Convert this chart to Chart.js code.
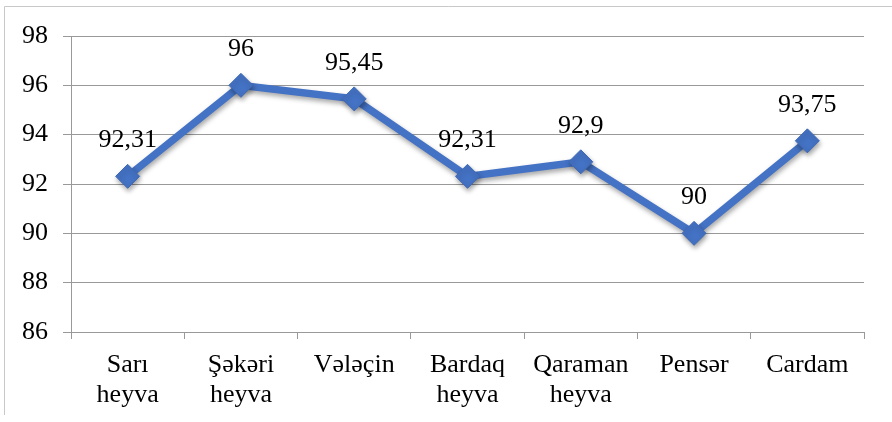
<!DOCTYPE html>
<html>
<head>
<meta charset="utf-8">
<script src="https://cdn.jsdelivr.net/npm/chart.js@4/dist/chart.umd.min.js"></script>
<style>
  html, body { margin: 0; padding: 0; background: #ffffff; }
  #wrap { width: 892px; height: 422px; position: relative; }
</style>
</head>
<body>
<div id="wrap"><canvas id="c" width="892" height="422"></canvas></div>
<script>
const categories = [["Sarı", "heyva"], ["Şəkəri", "heyva"], ["Vələçin"], ["Bardaq", "heyva"], ["Qaraman", "heyva"], ["Pensər"], ["Cardam"]];
const values = [92.31, 96, 95.45, 92.31, 92.9, 90, 93.75];
const valueLabels = ["92,31", "96", "95,45", "92,31", "92,9", "90", "93,75"];
const yTicks = [86, 88, 90, 92, 94, 96, 98];

const FONT = "'Liberation Serif', 'Times New Roman', serif";
const BLUE = "#4472C4";

const framePlugin = {
  id: 'frame',
  beforeDraw(chart) {
    const ctx = chart.ctx;
    ctx.save();
    ctx.strokeStyle = '#c8c8c8';
    ctx.lineWidth = 1;
    ctx.beginPath();
    ctx.moveTo(4.5, 415);
    ctx.lineTo(4.5, 6.5);
    ctx.lineTo(892, 6.5);
    ctx.stroke();
    ctx.restore();
  }
};

const shadowPlugin = {
  id: 'shadow',
  beforeDatasetDraw(chart) {
    const ctx = chart.ctx;
    ctx.save();
    ctx.shadowColor = 'rgba(0,0,0,0.35)';
    ctx.shadowBlur = 5;
    ctx.shadowOffsetX = 1;
    ctx.shadowOffsetY = 3;
  },
  afterDatasetDraw(chart) {
    chart.ctx.restore();
  }
};

const labelPlugin = {
  id: 'valueLabels',
  afterDatasetsDraw(chart) {
    const ctx = chart.ctx;
    const meta = chart.getDatasetMeta(0);
    ctx.save();
    ctx.font = "26px " + FONT;
    ctx.fillStyle = '#000000';
    ctx.textAlign = 'center';
    ctx.textBaseline = 'alphabetic';
    meta.data.forEach((pt, i) => {
      ctx.fillText(valueLabels[i], pt.x, pt.y - 29);
    });
    ctx.restore();
  }
};

new Chart(document.getElementById('c'), {
  type: 'line',
  data: {
    labels: categories,
    datasets: [{
      data: values,
      borderColor: BLUE,
      backgroundColor: BLUE,
      borderWidth: 7.5,
      pointStyle: 'rectRot',
      pointRadius: 12,
      pointBorderWidth: 1,
      pointBorderColor: '#3f69b5',
      pointBackgroundColor: BLUE,
      tension: 0,
      fill: false
    }]
  },
  options: {
    responsive: false,
    animation: false,
    devicePixelRatio: 1,
    layout: { padding: { top: 36, right: 28, bottom: 0, left: 0 } },
    plugins: { legend: { display: false }, tooltip: { enabled: false } },
    scales: {
      x: {
        type: 'category',
        offset: true,
        grid: {
          offset: true,
          drawOnChartArea: false,
          drawTicks: true,
          tickLength: 7,
          color: '#999999'
        },
        border: { display: true, color: '#999999' },
        ticks: {
          color: '#000000',
          font: { family: FONT, size: 26, lineHeight: 1.12 },
          padding: 12,
          maxRotation: 0,
          autoSkip: false
        },
        afterFit(scale) { scale.height = 90; }
      },
      y: {
        min: 86,
        max: 98,
        afterBuildTicks(scale) { scale.ticks = yTicks.map(v => ({ value: v })); },
        grid: {
          color: '#999999',
          drawTicks: true,
          tickLength: 8
        },
        border: { display: true, color: '#999999' },
        ticks: {
          color: '#000000',
          font: { family: FONT, size: 26 },
          padding: 15
        },
        afterFit(scale) { scale.width = 71; }
      }
    }
  },
  plugins: [framePlugin, shadowPlugin, labelPlugin]
});
</script>
</body>
</html>
